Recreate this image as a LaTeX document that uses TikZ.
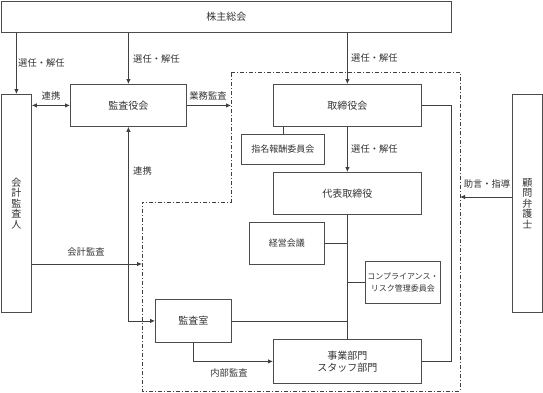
\documentclass[tikz,border=0pt]{standalone}
\usepackage{fontspec}
\setmainfont{Noto Sans CJK JP}
\usetikzlibrary{arrows.meta,calc}
\tikzset{
  box/.style={draw=black!70, line width=0.8pt, inner sep=0pt, align=center, font=\fontsize{10}{12}\selectfont, text=black!80, anchor=north west},
  conn/.style={draw=black!75, line width=0.8pt},
  arr/.style={conn, -{Latex[length=5pt,width=4.5pt]}},
  darr/.style={conn, {Latex[length=5pt,width=4.5pt]}-{Latex[length=5pt,width=4.5pt]}},
  lbl/.style={font=\fontsize{9.3}{11}\selectfont, text=black!80, inner sep=0pt},
  region/.style={draw=black!75, line width=0.8pt, dash pattern=on 4pt off 2pt on 1pt off 2pt}
}
\begin{document}
\begin{tikzpicture}[x=1pt,y=-1pt]
\useasboundingbox (0,0) rectangle (543,392);
% region boundary
\coordinate (r1) at (231,72);
\coordinate (r2) at (460,72);
\coordinate (r3) at (460,391);
\coordinate (r4) at (142,391);
\coordinate (r5) at (142,202);
\coordinate (r6) at (231,202);
\draw[region] (r1) -- (r2) -- (r3) -- (r4) -- (r5) -- (r6) -- cycle;

% boxes
\node[box, minimum width=450, minimum height=31] (soukai) at (1,1) {株主総会};
\node[box, minimum width=30, minimum height=218, font=\fontsize{10}{10.5}\selectfont] (kaikei) at (1,94) {会\\計\\監\\査\\人};
\node[box, minimum width=116, minimum height=42] (kansayaku) at (70,84) {監査役会};
\node[box, minimum width=148, minimum height=42] (torishimari) at (273,84) {取締役会};
\node[box, minimum width=83, minimum height=30, font=\fontsize{9}{11}\selectfont] (shimei) at (241,134) {指名報酬委員会};
\node[box, minimum width=148, minimum height=42] (daihyo) at (273,172) {代表取締役};
\node[box, minimum width=75, minimum height=42, font=\fontsize{9}{11}\selectfont] (keiei) at (249,222) {経営会議};
\node[box, minimum width=75, minimum height=42, font=\fontsize{8}{12}\selectfont] (comp) at (365,261) {コンプライアンス・\\リスク管理委員会};
\node[box, minimum width=76, minimum height=43] (kansashitsu) at (155,299) {監査室};
\node[box, minimum width=148, minimum height=44] (jigyo) at (273,339) {事業部門\\スタッフ部門};
\node[box, minimum width=30, minimum height=218, font=\fontsize{10}{10.5}\selectfont] (komon) at (512,94) {顧\\問\\弁\\護\\士};

% connectors from shareholders
\draw[arr] (kaikei.north |- soukai.south) -- (kaikei.north);
\draw[arr] (kansayaku.north |- soukai.south) -- (kansayaku.north);
\draw[arr] (torishimari.north |- soukai.south) -- (torishimari.north);
\node[lbl, anchor=west] (l1) at (18,63) {選任・解任};
\node[lbl, anchor=west] (l2) at (133,59) {選任・解任};
\node[lbl, anchor=west] (l3) at (351,58) {選任・解任};

% audit board links
\draw[darr] (kaikei.east |- kansayaku.west) -- (kansayaku.west);
\node[lbl] (l4) at (51,96) {連携};
\coordinate (gyomu) at (kansayaku.east -| r1);
\draw[arr] (kansayaku.east) -- (gyomu);
\node[lbl] (l5) at (208,96) {業務監査};
\draw[darr] (kansayaku.south) |- (kansashitsu.west);
\node[lbl, anchor=west] (l6) at (133,171) {連携};
\coordinate (kk) at (142,264);
\draw[arr] (kaikei.east |- kk) -- (kk);
\node[lbl] (l7) at (86,252) {会計監査};

% board internals
\draw[conn] (shimei.north |- torishimari.south) -- (shimei.north);
\draw[arr] (torishimari.south) -- (daihyo.north);
\node[lbl, anchor=west] (l8) at (351,149) {選任・解任};
\draw[conn] (daihyo.south) -- (jigyo.north);
\draw[conn] (keiei.east) -- (keiei.east -| daihyo.south);
\draw[conn] (comp.west) -- (comp.west -| daihyo.south);
\draw[conn] (kansashitsu.east) -- (kansashitsu.east -| daihyo.south);
\draw[arr] (kansashitsu.south) |- (jigyo.west);
\node[lbl] (l9) at (229,373) {内部監査};
\draw[conn] (torishimari.east) -- ++(30,0) |- (jigyo.east);

% legal advisor
\coordinate (jg) at (460,197);
\draw[arr] (komon.west |- jg) -- (jg);
\node[lbl] (l10) at (487,184) {助言・指導};
\end{tikzpicture}
\end{document}
